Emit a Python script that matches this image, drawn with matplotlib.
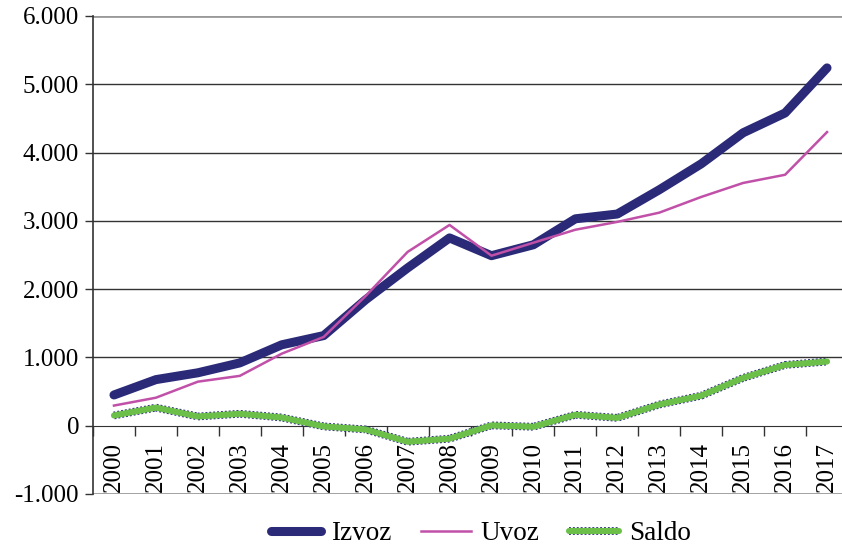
import matplotlib.pyplot as plt
from matplotlib.legend_handler import HandlerTuple

years = [str(y) for y in range(2000, 2018)]
izvoz = [450, 675, 775, 920, 1185, 1320, 1845, 2310, 2750, 2490, 2650, 3030, 3100, 3455, 3835, 4290, 4580, 5240]
uvoz = [295, 410, 645, 730, 1055, 1300, 1900, 2545, 2940, 2490, 2680, 2870, 2985, 3120, 3350, 3555, 3675, 4300]
saldo = [150, 265, 135, 175, 120, -10, -55, -235, -190, 5, -15, 160, 115, 310, 440, 700, 890, 940]
yticks = [-1000, 0, 1000, 2000, 3000, 4000, 5000, 6000]
ytick_labels = ["-1.000", "0", "1.000", "2.000", "3.000", "4.000", "5.000", "6.000"]

plt.rcParams['font.family'] = ['Liberation Serif', 'DejaVu Serif']

fig = plt.figure(figsize=(8.42, 5.46), dpi=100)
ax = fig.add_axes([93/842, 1 - 494/546, 755/842, 478/546])

x = list(range(len(years)))

# mreža
for v in yticks[2:-1]:
    ax.axhline(v, color='#333333', lw=1.0, zorder=1)
ax.axhline(6000, color='#999999', lw=2.0, zorder=1)
ax.axhline(-1000, color='#999999', lw=2.0, zorder=1)

l1, = ax.plot(x, izvoz, color='#2a2a78', lw=6.5, solid_capstyle='round', solid_joinstyle='round', zorder=4)
l2, = ax.plot(x, uvoz, color='#c050a8', lw=1.8, zorder=5)
l3a, = ax.plot(x, saldo, color='#2a2a78', lw=5.6, ls=(0, (0.25, 0.25)), zorder=3)
l3b, = ax.plot(x, saldo, color='#6cc04a', lw=4.4, solid_capstyle='round', zorder=3.5)

ax.set_xlim(-0.5, 17.5)
ax.set_ylim(-1000, 6000)
ax.set_yticks(yticks)
ax.set_yticklabels(ytick_labels, fontsize=18)
ax.tick_params(axis='y', length=6, width=1, color='#333333', pad=4)

ax.spines['bottom'].set_position(('data', 0))
ax.spines['bottom'].set_color('#333333')
ax.spines['left'].set_color('#333333')
ax.spines['left'].set_linewidth(1.2)
ax.spines['top'].set_visible(False)
ax.spines['right'].set_visible(False)

ax.set_xticks(x)
ax.set_xticklabels(years, rotation=90, fontsize=18, va='top')
ax.tick_params(axis='x', which='major', length=0, pad=12)
ax.set_xticks([i + 0.5 for i in range(-1, 18)], minor=True)
ax.tick_params(axis='x', which='minor', length=7, width=1, color='#333333', direction='out')

leg = fig.legend([l1, l2, (l3a, l3b)], ['Izvoz', 'Uvoz', 'Saldo'],
                 handler_map={tuple: HandlerTuple(ndivide=1, pad=0)},
                 loc='lower center', bbox_to_anchor=(0.571, -0.045), ncol=3, frameon=False,
                 fontsize=19.5, handlelength=1.85, columnspacing=1.1, handletextpad=0.35)

fig.savefig('out.png', dpi=100)
